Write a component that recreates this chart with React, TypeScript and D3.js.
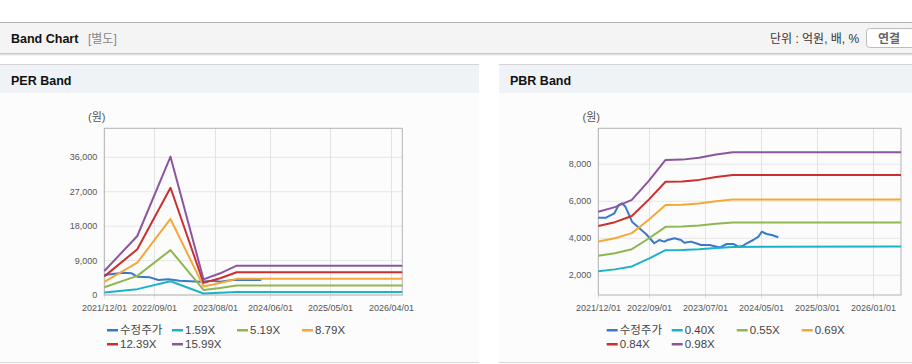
import React from "react";
import * as d3 from "d3";

// ---------- DATA ----------
const xDomainDates = ["2021-12-01", "2026-06-01"];

// PER chart
const perTickDates = ["2021-12-01", "2022-09-01", "2023-08-01", "2024-06-01", "2025-05-01", "2026-04-01"];
const perYTicks = [0, 9000, 18000, 27000, 36000];
const perBandDates = ["2021-12-01", "2022-06-01", "2022-12-01", "2023-06-01", "2023-09-01", "2023-12-01", "2026-06-01"];
const perBand159 = [625, 1534, 3598, 407, 564, 763, 763];
const perBand519 = [2040, 5008, 11745, 1329, 1842, 2491, 2491];
const perBand879 = [3454, 8482, 19892, 2250, 3120, 4219, 4219];
const perBand1239 = [4869, 11956, 28039, 3172, 4398, 5947, 5947];
const perBand1599 = [6284, 15430, 36185, 4093, 5676, 7675, 7675];
const perPriceDates = ["2021-12-01", "2022-03-15", "2022-05-01", "2022-06-01", "2022-08-10", "2022-09-25", "2022-11-20", "2023-01-20", "2023-05-15", "2023-07-25", "2023-08-31", "2023-11-10", "2024-04-15"];
const perPrice = [5230, 5830, 5670, 4790, 4620, 3920, 4100, 3740, 3480, 3740, 3480, 3920, 3900];
const perLegend = ["수정주가", "1.59X", "5.19X", "8.79X", "12.39X", "15.99X"];

// PBR chart
const pbrTickDates = ["2021-12-01", "2022-09-01", "2023-07-01", "2024-05-01", "2025-03-01", "2026-01-01"];
const pbrYTicks = [2000, 4000, 6000, 8000];
const pbrBandDates = ["2021-12-01", "2022-03-01", "2022-06-01", "2022-09-01", "2022-12-01", "2023-03-01", "2023-06-01", "2023-09-01", "2023-12-01", "2026-06-01"];
const pbrBand040 = [2220, 2320, 2480, 2900, 3360, 3368, 3408, 3480, 3532, 3560];
const pbrBand055 = [3053, 3190, 3410, 3988, 4620, 4631, 4686, 4785, 4857, 4857];
const pbrBand069 = [3830, 4002, 4278, 5003, 5796, 5810, 5879, 6003, 6093, 6093];
const pbrBand084 = [4662, 4872, 5208, 6090, 7056, 7073, 7157, 7308, 7417, 7417];
const pbrBand098 = [5439, 5684, 6076, 7105, 8232, 8252, 8350, 8526, 8653, 8653];
const pbrPriceDates = ["2021-12-01", "2022-01-12", "2022-02-26", "2022-03-22", "2022-04-09", "2022-04-27", "2022-06-02", "2022-07-12", "2022-08-17", "2022-10-01", "2022-10-28", "2022-11-24", "2022-12-13", "2023-01-18", "2023-02-23", "2023-03-13", "2023-04-18", "2023-05-15", "2023-06-12", "2023-07-27", "2023-09-05", "2023-09-23", "2023-10-29", "2023-12-04", "2023-12-31", "2024-01-27", "2024-02-15", "2024-03-21", "2024-04-18", "2024-05-06", "2024-06-02", "2024-06-29", "2024-08-04"];
const pbrPrice = [5114, 5114, 5351, 5800, 5892, 5708, 4897, 4540, 4232, 3730, 3908, 3820, 3908, 4000, 3908, 3762, 3820, 3730, 3638, 3638, 3546, 3513, 3692, 3692, 3546, 3600, 3730, 3908, 4086, 4357, 4232, 4178, 4054];
const pbrLegend = ["수정주가", "0.40X", "0.55X", "0.69X", "0.84X", "0.98X"];

const seriesColors = ["#3a78c8", "#1cb2c8", "#8fb650", "#f5a838", "#cc2f2f", "#8d55a0"];

// ---------- HELPERS ----------
const parse = d3.timeParse("%Y-%m-%d");
const FONT = "'Liberation Sans', Arial, 'Noto Sans CJK KR', sans-serif";
const KFONT = "'Liberation Sans', Arial, 'Noto Sans CJK KR', sans-serif";

type ChartProps = {
  left: number; right: number; top: number; bottom: number;
  yDomain: [number, number]; yTicks: number[]; tickDates: string[];
  bandDates: string[]; bands: number[][];
  priceDates: string[]; price: number[];
  legend: string[]; legendX: number; unitX: number;
};

function Chart(p: ChartProps) {
  const x = d3.scaleTime().domain(xDomainDates.map((d) => parse(d) as Date)).range([p.left, p.right]);
  const y = d3.scaleLinear().domain(p.yDomain).range([p.bottom, p.top]);
  const line = d3.line<[Date, number]>().x((d) => x(d[0])).y((d) => y(d[1]));
  const fmt = d3.format(",");
  const bandPaths = p.bands.map((vals) => line(p.bandDates.map((d, i) => [parse(d) as Date, vals[i]])) || "");
  const pricePath = line(p.priceDates.map((d, i) => [parse(d) as Date, p.price[i]])) || "";
  return (
    <g>
      <text x={p.unitX} y={121} fontSize={11} fill="#555" fontFamily={KFONT}>(원)</text>
      {p.yTicks.map((t) => (
        <g key={"y" + t}>
          <line x1={p.left} x2={p.right} y1={y(t)} y2={y(t)} stroke="#e6e6e6" strokeWidth={1} />
          <text x={p.left - 7} y={y(t) + 3} textAnchor="end" fontSize={9} fill="#555" fontFamily={FONT}>{fmt(t)}</text>
        </g>
      ))}
      {p.tickDates.map((d) => {
        const xx = Math.round(x(parse(d) as Date)) + 0.5;
        return (
          <g key={"x" + d}>
            <line x1={xx} x2={xx} y1={p.top} y2={p.bottom + 4} stroke="#e3e3e3" strokeWidth={1} />
            <text x={xx} y={311} textAnchor="middle" fontSize={9} fill="#555" fontFamily={FONT}>{d.replace(/-/g, "/")}</text>
          </g>
        );
      })}
      <rect x={p.left} y={p.top} width={p.right - p.left} height={p.bottom - p.top} fill="none" stroke="#b4b4b4" strokeWidth={1} />
      <path d={pricePath} fill="none" stroke={seriesColors[0]} strokeWidth={2} strokeLinejoin="round" />
      {bandPaths.map((d, i) => (
        <path key={i} d={d} fill="none" stroke={seriesColors[i + 1]} strokeWidth={2} strokeLinejoin="round" />
      ))}
      {p.legend.map((name, i) => {
        const col = i < 4 ? i : i - 4;
        const row = i < 4 ? 0 : 1;
        const lx = p.legendX + col * 65;
        const ly = 330 + row * 14;
        return (
          <g key={name}>
            <rect x={lx} y={ly - 1} width={11} height={2.5} fill={seriesColors[i]} />
            <text x={lx + 13} y={ly + 4} fontSize={11.5} fill="#444" fontFamily={KFONT}>{name}</text>
          </g>
        );
      })}
    </g>
  );
}

function Panel({ x0, x1, title }: { x0: number; x1: number; title: string }) {
  return (
    <g>
      <rect x={x0} y={64} width={x1 - x0} height={298} fill="#fcfcfc" />
      <rect x={x0} y={64} width={x1 - x0} height={29} fill="#eff2f7" />
      <line x1={x0} x2={x1} y1={64.5} y2={64.5} stroke="#d4d4d4" />
      <line x1={x0} x2={x1} y1={362.5} y2={362.5} stroke="#d8d8d8" />
      <text x={x0 + 11} y={85} fontSize={12.5} fontWeight="bold" fill="#111" fontFamily={FONT}>{title}</text>
    </g>
  );
}

export default function App() {
  return (
    <svg width={912} height={364} style={{ position: "absolute", left: 0, top: 0, background: "#fff" }}>
      <rect x={0} y={0} width={912} height={364} fill="#fff" />
      {/* top header */}
      <rect x={0} y={23} width={912} height={30} fill="#f4f4f4" />
      <line x1={0} x2={912} y1={22.5} y2={22.5} stroke="#b3b3b3" />
      <line x1={0} x2={912} y1={53.5} y2={53.5} stroke="#c8c8c8" />
      <line x1={0} x2={912} y1={54.5} y2={54.5} stroke="#e2e2e2" />
      <line x1={0} x2={912} y1={55.5} y2={55.5} stroke="#f2f2f2" />
      <text x={11} y={42.5} fontSize={12.5} fontWeight="bold" fill="#111" fontFamily={FONT}>Band Chart</text>
      <text x={88} y={42.5} fontSize={12} fill="#888" fontFamily={KFONT}>[별도]</text>
      <text x={770} y={43} fontSize={12} fill="#333" fontFamily={KFONT}>단위 : 억원, 배, %</text>
      <rect x={866.5} y={28.5} width={56} height={19} rx={3} fill="#fff" stroke="#bcbcbc" />
      <text x={889} y={42.5} textAnchor="middle" fontSize={12} fontWeight="bold" fill="#666" fontFamily={KFONT}>연결</text>

      <Panel x0={0} x1={479} title="PER Band" />
      <Panel x0={499} x1={912} title="PBR Band" />

      <Chart
        left={104.3} right={402.3} top={128.3} bottom={295}
        yDomain={[0, 43600]} yTicks={perYTicks} tickDates={perTickDates}
        bandDates={perBandDates} bands={[perBand159, perBand519, perBand879, perBand1239, perBand1599]}
        priceDates={perPriceDates} price={perPrice}
        legend={perLegend} legendX={107} unitX={88}
      />
      <Chart
        left={598.3} right={901} top={128.3} bottom={295}
        yDomain={[935, 9945]} yTicks={pbrYTicks} tickDates={pbrTickDates}
        bandDates={pbrBandDates} bands={[pbrBand040, pbrBand055, pbrBand069, pbrBand084, pbrBand098]}
        priceDates={pbrPriceDates} price={pbrPrice}
        legend={pbrLegend} legendX={606.7} unitX={582.5}
      />
    </svg>
  );
}
